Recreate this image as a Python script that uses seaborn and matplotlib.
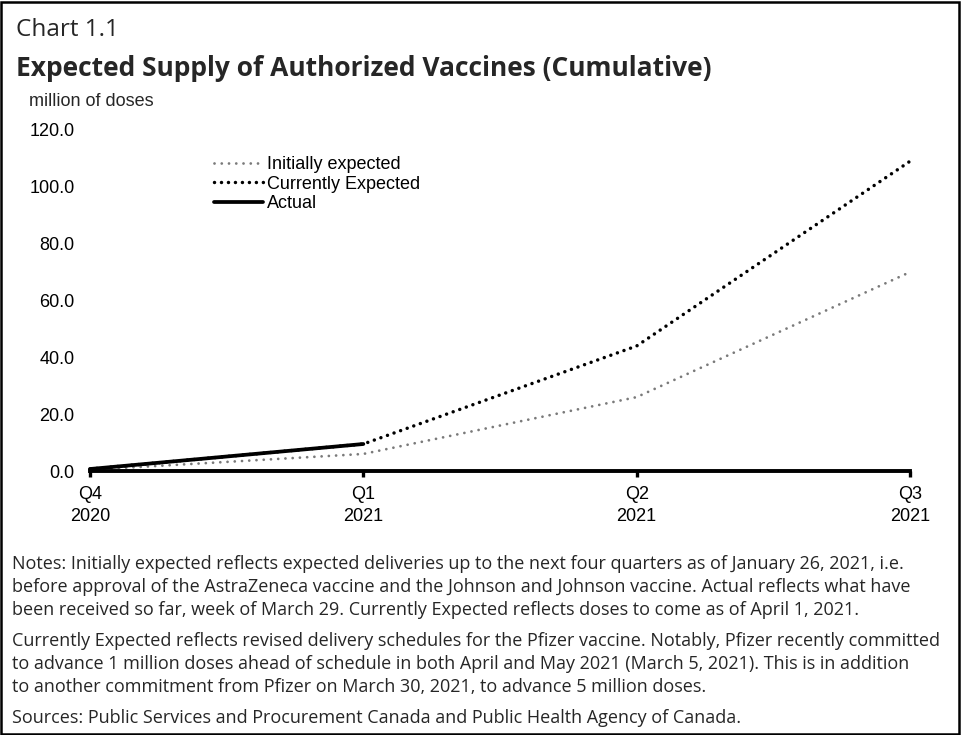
"""
Chart 1.1 - Expected Supply of Authorized Vaccines (Cumulative)
"""

import matplotlib
matplotlib.use("Agg")
import matplotlib.pyplot as plt
import matplotlib.patches as patches
import seaborn as sns
import pandas as pd

# Data
quarters = ["Q4\n2020", "Q1\n2021", "Q2\n2021", "Q3\n2021"]
initially_expected = [0.4, 6.0, 26.0, 70.0]
currently_expected = [0.7, 9.5, 44.0, 109.0]
actual = [0.7, 9.5]
y_ticks = [0.0, 20.0, 40.0, 60.0, 80.0, 100.0, 120.0]

notes_lines = [
    "Notes: Initially expected reflects expected deliveries up to the next four quarters as of January 26, 2021, i.e.",
    "before approval of the AstraZeneca vaccine and the Johnson and Johnson vaccine. Actual reflects what have",
    "been received so far, week of March 29. Currently Expected reflects doses to come as of April 1, 2021.",
    "Currently Expected reflects revised delivery schedules for the Pfizer vaccine. Notably, Pfizer recently committed",
    "to advance 1 million doses ahead of schedule in both April and May 2021 (March 5, 2021). This is in addition",
    "to another commitment from Pfizer on March 30, 2021, to advance 5 million doses.",
    "Sources: Public Services and Procurement Canada and Public Health Agency of Canada.",
]
notes_y = [564, 587, 610, 641, 664, 687, 718]

sns.set_theme(style="white")
plt.rcParams["font.family"] = ["Liberation Sans", "DejaVu Sans"]

W, H = 961, 735
fig = plt.figure(figsize=(W / 100, H / 100), dpi=100)
ax = fig.add_axes([90 / W, 1 - 471 / H, 820 / W, 341 / H])

pos = list(range(len(quarters)))
df_init = pd.DataFrame({"x": pos, "y": initially_expected})
df_curr = pd.DataFrame({"x": pos, "y": currently_expected})
df_act = pd.DataFrame({"x": pos[:len(actual)], "y": actual})

sns.lineplot(data=df_init, x="x", y="y", ax=ax, color="#7a7a7a", lw=2.0,
             linestyle=(0, (0.01, 2.6)), dash_capstyle="round",
             label="Initially expected", clip_on=False)
sns.lineplot(data=df_curr, x="x", y="y", ax=ax, color="black", lw=2.5,
             linestyle=(0, (0.01, 2.0)), dash_capstyle="round",
             label="Currently Expected", clip_on=False)
sns.lineplot(data=df_act, x="x", y="y", ax=ax, color="black", lw=2.7,
             label="Actual", clip_on=False)

ax.set_xlim(0, len(quarters) - 1)
ax.set_ylim(0, 120)
ax.set_xticks(pos)
ax.set_xticklabels(quarters, fontsize=13, linespacing=1.35)
ax.set_yticks(y_ticks)
ax.set_yticklabels([f"{v:.1f}" for v in y_ticks], fontsize=13)
ax.set_xlabel("")
ax.set_ylabel("")

for side in ["top", "right", "left"]:
    ax.spines[side].set_visible(False)
ax.spines["bottom"].set_linewidth(2.8)
ax.spines["bottom"].set_color("black")
ax.tick_params(axis="x", bottom=True, length=4, width=2.4, direction="out",
               pad=7, colors="black")
ax.tick_params(axis="y", left=False, length=0, pad=11, colors="black")

leg = ax.legend(loc="upper left", bbox_to_anchor=(0.142, 0.945), frameon=False,
                fontsize=13, handlelength=2.75, handletextpad=0.2,
                labelspacing=0.15, borderaxespad=0)
for txt in leg.get_texts():
    txt.set_color("black")

# Titles and headers
fig.text(16 / W, 1 - 30 / H, "Chart 1.1", fontsize=17.5, family=["Open Sans", "DejaVu Sans"],
         ha="left", va="center")
fig.text(16 / W, 1 - 69 / H, "Expected Supply of Authorized Vaccines (Cumulative)",
         fontsize=19, fontweight="bold", family=["Open Sans", "DejaVu Sans"],
         ha="left", va="center")
fig.text(29 / W, 1 - 101 / H, "million of doses", fontsize=13, ha="left", va="center")

for line, yy in zip(notes_lines, notes_y):
    fig.text(12 / W, 1 - yy / H, line, fontsize=12.95, family=["Open Sans", "DejaVu Sans"],
             ha="left", va="center")

# Border around the figure
fig.patches.append(patches.Rectangle((1 / W, 1 / H), (W - 3) / W, (H - 3) / H,
                                     transform=fig.transFigure, fill=False,
                                     edgecolor="black", lw=1.8))

fig.savefig("out.png", dpi=100)
